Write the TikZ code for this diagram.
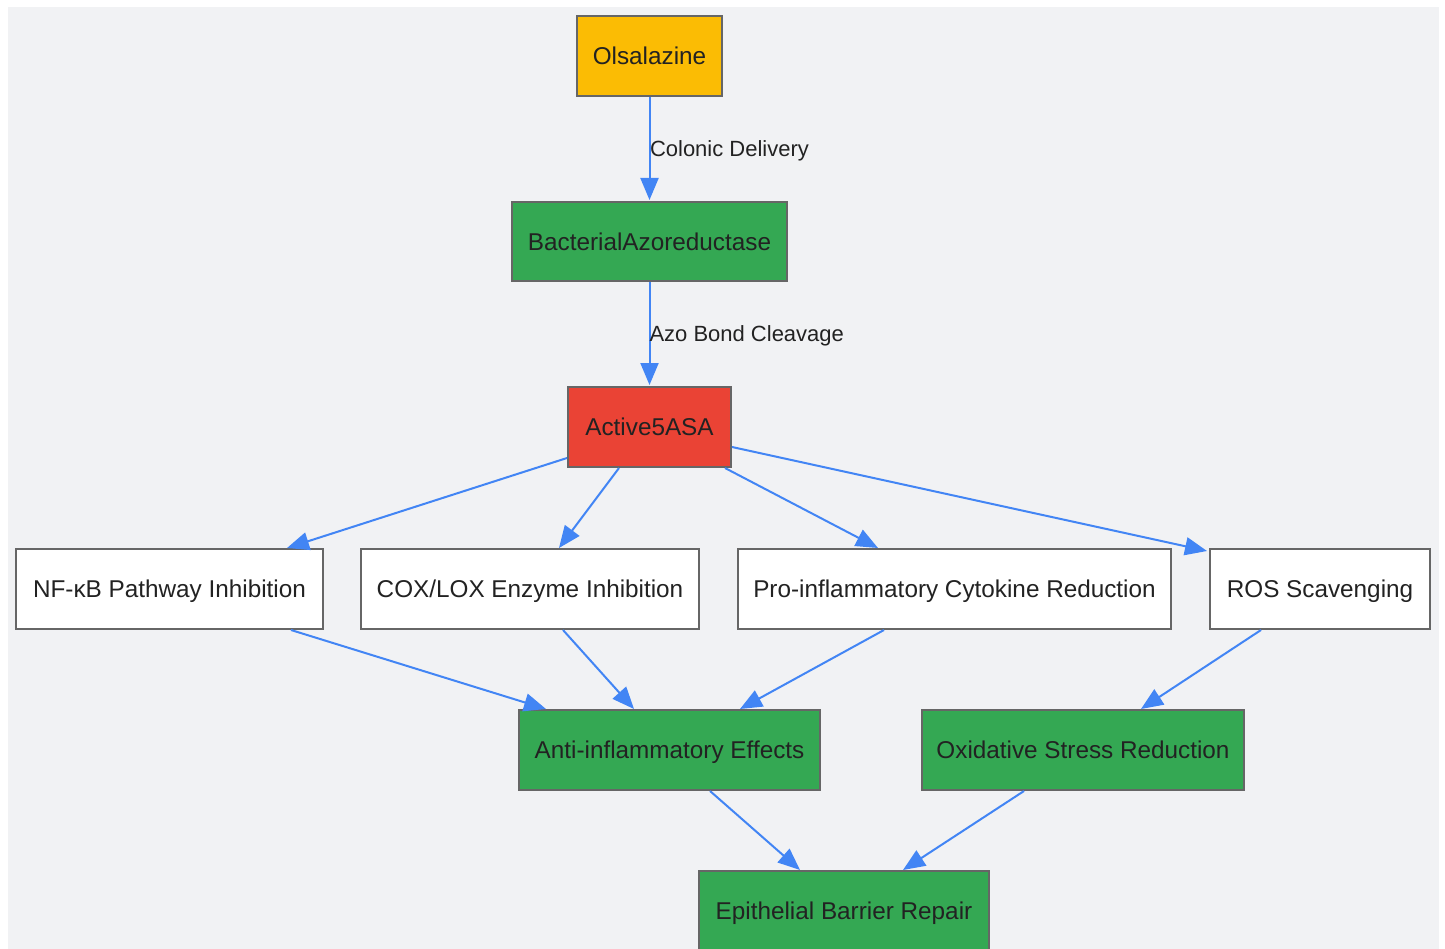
\documentclass[tikz,border=0pt]{standalone}
\usepackage{fontspec}
\setmainfont{Liberation Sans}
\usetikzlibrary{arrows.meta,calc}
\definecolor{bgc}{HTML}{F1F2F4}
\definecolor{edgec}{HTML}{4285F4}
\definecolor{bordc}{HTML}{666666}
\definecolor{txtc}{HTML}{222222}
\definecolor{yel}{HTML}{FBBC04}
\definecolor{grn}{HTML}{34A853}
\definecolor{redc}{HTML}{EA4335}
\begin{document}
\begin{tikzpicture}[x=1pt,y=-1pt,
  box/.style={draw=bordc,line width=2pt,inner sep=0pt,text=txtc,font=\fontsize{24.3}{28}\selectfont,text height=20.4pt,text depth=3pt,anchor=center},
  conn/.style={draw=edgec,line width=2pt,-{Triangle[length=22pt,width=18pt]}},
  elabel/.style={text=txtc,font=\fontsize{22}{26}\selectfont,inner sep=0pt,text height=18.8pt,text depth=3pt,anchor=west}]
\useasboundingbox (0,0) rectangle (1445,949);
\fill[white] (0,0) rectangle (1445,949);
\fill[bgc] (8,7) rectangle (1439,949);
\node[box,fill=yel,minimum width=145pt,minimum height=80pt] (ols) at (649.5,56) {Olsalazine};
\node[box,fill=grn,minimum width=275pt,minimum height=79pt] (bac) at (649.5,241.5) {BacterialAzoreductase};
\node[box,fill=redc,minimum width=163pt,minimum height=80pt] (act) at (649.5,427) {Active5ASA};
\node[box,fill=white,minimum width=307pt,minimum height=80pt] (nf) at (169.5,589) {NF-κB Pathway Inhibition};
\node[box,fill=white,minimum width=338pt,minimum height=80pt] (cox) at (530,589) {COX/LOX Enzyme Inhibition};
\node[box,fill=white,minimum width=433pt,minimum height=80pt] (pro) at (954.5,589) {Pro-inflammatory Cytokine Reduction};
\node[box,fill=white,minimum width=220pt,minimum height=80pt] (ros) at (1320,589) {ROS Scavenging};
\node[box,fill=grn,minimum width=301pt,minimum height=80pt] (anti) at (669.5,750) {Anti-inflammatory Effects};
\node[box,fill=grn,minimum width=322pt,minimum height=80pt] (ox) at (1083,750) {Oxidative Stress Reduction};
\node[box,fill=grn,minimum width=290pt,minimum height=80pt] (epi) at (844,911) {Epithelial Barrier Repair};
\draw[conn] (ols.south) -- node[elabel,xshift=-0.5pt]{Colonic Delivery} ($(bac.north)+(0,-1)$);
\draw[conn] (bac.south) -- node[elabel,xshift=-1pt]{Azo Bond Cleavage} ($(act.north)+(0,-1)$);
\draw[conn] ($(act.south west)+(0,-10)$) -- ($(nf.north west)+(272,0)$);
\draw[conn] ($(act.south west)+(52,0)$) -- ($(cox.north west)+(199,0)$);
\draw[conn] ($(act.south east)+(-7,0)$) -- ($(pro.north west)+(141,0)$);
\draw[conn] ($(act.south east)+(0,-21)$) -- ($(ros.north west)+(-2,3)$);
\draw[conn] ($(nf.south west)+(276,0)$) -- ($(anti.north west)+(28,0)$);
\draw[conn] ($(cox.south west)+(203,0)$) -- ($(anti.north west)+(116,0)$);
\draw[conn] ($(pro.south west)+(147,0)$) -- ($(anti.north west)+(222,0)$);
\draw[conn] ($(ros.south west)+(52,0)$) -- ($(ox.north west)+(220,0)$);
\draw[conn] ($(anti.south west)+(192,0)$) -- ($(epi.north west)+(102,0)$);
\draw[conn] ($(ox.south west)+(103,0)$) -- ($(epi.north west)+(205,0)$);
\end{tikzpicture}
\end{document}
